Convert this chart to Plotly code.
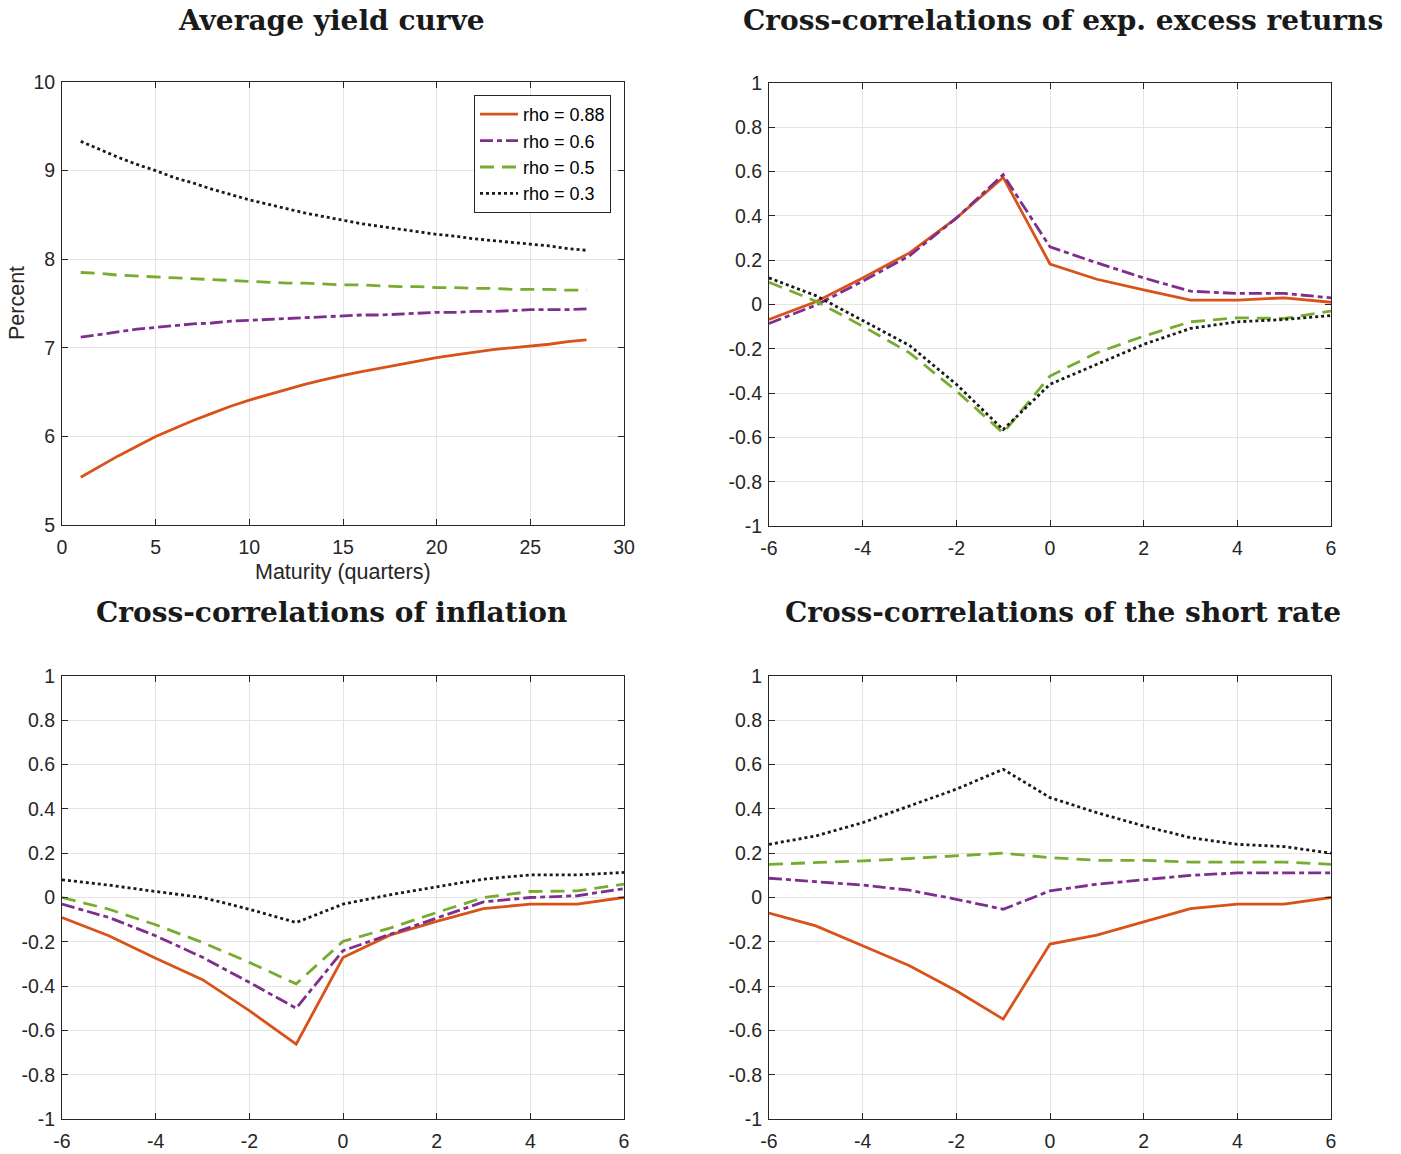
import plotly.graph_objects as go

# ---------------- data ----------------
maturity = list(range(1, 29))
yc_088 = [5.54, 5.66, 5.78, 5.89, 6.00, 6.09, 6.18, 6.26, 6.34, 6.41, 6.47, 6.53, 6.59, 6.64,
          6.69, 6.73, 6.77, 6.81, 6.85, 6.89, 6.92, 6.95, 6.98, 7.00, 7.02, 7.04, 7.07, 7.09]
yc_06 = [7.12, 7.15, 7.18, 7.21, 7.23, 7.25, 7.27, 7.28, 7.30, 7.31, 7.32, 7.33, 7.34, 7.35,
         7.36, 7.37, 7.37, 7.38, 7.39, 7.40, 7.40, 7.41, 7.41, 7.42, 7.43, 7.43, 7.43, 7.44]
yc_05 = [7.85, 7.84, 7.82, 7.81, 7.80, 7.79, 7.78, 7.77, 7.76, 7.75, 7.74, 7.73, 7.73, 7.72,
         7.71, 7.71, 7.70, 7.69, 7.69, 7.68, 7.68, 7.67, 7.67, 7.66, 7.66, 7.66, 7.65, 7.65]
yc_03 = [9.33, 9.24, 9.15, 9.07, 9.00, 8.92, 8.86, 8.79, 8.73, 8.67, 8.62, 8.57, 8.52, 8.48,
         8.44, 8.40, 8.37, 8.34, 8.31, 8.28, 8.26, 8.23, 8.21, 8.19, 8.17, 8.15, 8.12, 8.10]

lags = [-6, -5, -4, -3, -2, -1, 0, 1, 2, 3, 4, 5, 6]

exr_088 = [-0.068, 0.012, 0.12, 0.233, 0.39, 0.574, 0.183, 0.114, 0.066, 0.02, 0.02, 0.03, 0.01]
exr_06 = [-0.086, -0.003, 0.105, 0.22, 0.39, 0.586, 0.26, 0.188, 0.12, 0.06, 0.05, 0.05, 0.03]
exr_05 = [0.10, 0.015, -0.098, -0.218, -0.39, -0.58, -0.323, -0.218, -0.143, -0.078, -0.06, -0.063, -0.03]
exr_03 = [0.12, 0.04, -0.072, -0.185, -0.36, -0.565, -0.36, -0.27, -0.18, -0.108, -0.078, -0.068, -0.05]

inf_088 = [-0.09, -0.173, -0.274, -0.371, -0.511, -0.662, -0.271, -0.17, -0.108, -0.05, -0.03, -0.03, 0.0]
inf_06 = [-0.03, -0.09, -0.173, -0.27, -0.383, -0.50, -0.24, -0.165, -0.093, -0.02, 0.0, 0.008, 0.04]
inf_05 = [0.0, -0.053, -0.123, -0.203, -0.293, -0.39, -0.198, -0.138, -0.068, 0.0, 0.027, 0.03, 0.06]
inf_03 = [0.08, 0.056, 0.027, 0.0, -0.053, -0.113, -0.03, 0.012, 0.048, 0.083, 0.102, 0.102, 0.113]

sr_088 = [-0.07, -0.128, -0.218, -0.308, -0.421, -0.549, -0.21, -0.17, -0.11, -0.05, -0.03, -0.03, 0.0]
sr_06 = [0.087, 0.072, 0.056, 0.033, -0.008, -0.053, 0.03, 0.06, 0.08, 0.10, 0.111, 0.111, 0.111]
sr_05 = [0.15, 0.157, 0.165, 0.176, 0.188, 0.2, 0.18, 0.168, 0.168, 0.16, 0.16, 0.16, 0.15]
sr_03 = [0.24, 0.278, 0.338, 0.414, 0.489, 0.579, 0.451, 0.383, 0.323, 0.27, 0.24, 0.23, 0.2]

series_names = ["rho = 0.88", "rho = 0.6", "rho = 0.5", "rho = 0.3"]
titles = ["Average yield curve", "Cross-correlations of exp. excess returns",
          "Cross-correlations of inflation", "Cross-correlations of the short rate"]
xlabel_1 = "Maturity (quarters)"
ylabel_1 = "Percent"

yc_xticks = [0, 5, 10, 15, 20, 25, 30]
yc_yticks = [5, 6, 7, 8, 9, 10]
cc_xticks = [-6, -4, -2, 0, 2, 4, 6]
cc_yticks = [-1, -0.8, -0.6, -0.4, -0.2, 0, 0.2, 0.4, 0.6, 0.8, 1]
cc_yticktext = ["-1", "-0.8", "-0.6", "-0.4", "-0.2", "0", "0.2", "0.4", "0.6", "0.8", "1"]
cc_xticktext = ["-6", "-4", "-2", "0", "2", "4", "6"]

# ---------------- styles ----------------
colors = ["#D95319", "#7E2F8E", "#77AC30", "#1A1A1A"]
dashes = ["solid", "13px,4px,5px,4px", "14px,8px", "3px,3px"]
lw = 2.8
sans = "Liberation Sans, Arial, Helvetica, sans-serif"
serif = "DejaVu Serif, serif"

W, H = 1401, 1154
def px(x):
    return x / W
def py(y):
    return 1 - y / H
def xd(a, b):
    return [px(a), px(b)]
def yd(top, bot):
    return [py(bot), py(top)]

fig = go.Figure()

panels = [
    (maturity, [yc_088, yc_06, yc_05, yc_03], "x", "y"),
    (lags, [exr_088, exr_06, exr_05, exr_03], "x2", "y2"),
    (lags, [inf_088, inf_06, inf_05, inf_03], "x3", "y3"),
    (lags, [sr_088, sr_06, sr_05, sr_03], "x4", "y4"),
]
for pi, (xs, ys_list, xa, ya) in enumerate(panels):
    for si, ys in enumerate(ys_list):
        fig.add_trace(go.Scatter(
            x=xs, y=ys, mode="lines", name=series_names[si],
            line=dict(color=colors[si], width=lw, dash=dashes[si]),
            xaxis=xa, yaxis=ya, showlegend=(pi == 0)))

tickfont = dict(family=sans, size=19.5, color="#262626")
common = dict(showline=True, linecolor="#262626", linewidth=1, mirror="ticks",
              ticks="inside", ticklen=6, tickcolor="#262626", showgrid=True,
              gridcolor="#E4E4E4", gridwidth=1, zeroline=False, tickfont=tickfont,
              automargin=False)

dom = {
    1: (xd(62, 624), yd(82, 525)),
    2: (xd(769, 1331), yd(83, 526)),
    3: (xd(62, 624), yd(676, 1119)),
    4: (xd(769, 1331), yd(676, 1119)),
}

layout = dict(
    template="none",
    width=W, height=H, paper_bgcolor="white", plot_bgcolor="white",
    margin=dict(l=0, r=0, t=0, b=0, autoexpand=False),
    legend=dict(x=px(611), y=py(95), xanchor="right", yanchor="top",
                bgcolor="white", bordercolor="#262626", borderwidth=1,
                font=dict(family=sans, size=18, color="#000000"),
                tracegroupgap=0, itemwidth=38),
)

for i in range(1, 5):
    xs = "" if i == 1 else str(i)
    dx, dy = dom[i]
    if i == 1:
        xax = dict(common, domain=dx, range=[0, 30], tickvals=yc_xticks, anchor="y",
                   ticklabelstandoff=5)
        yax = dict(common, domain=dy, range=[5, 10], tickvals=yc_yticks, anchor="x",
                   ticklabelstandoff=2)
    else:
        xax = dict(common, domain=dx, range=[-6, 6], tickvals=cc_xticks, ticktext=cc_xticktext,
                   anchor="y" + xs, ticklabelstandoff=5)
        yax = dict(common, domain=dy, range=[-1, 1], tickvals=cc_yticks, ticktext=cc_yticktext,
                   anchor="x" + xs, ticklabelstandoff=2)
    layout["xaxis" + xs] = xax
    layout["yaxis" + xs] = yax

fig.update_layout(**layout)

title_pos = [(331, 21), (1063, 21), (331, 612), (1063, 612)]
for t, (cx, cy) in zip(titles, title_pos):
    fig.add_annotation(text="<b>" + t + "</b>", x=px(cx), y=py(cy), xref="paper", yref="paper",
                       xanchor="center", yanchor="middle", showarrow=False,
                       font=dict(family=serif, size=28, color="#1A1A1A"))

fig.add_annotation(text=xlabel_1, x=px(343), y=py(572), xref="paper", yref="paper",
                   xanchor="center", yanchor="middle", showarrow=False,
                   font=dict(family=sans, size=21.5, color="#262626"))
fig.add_annotation(text=ylabel_1, x=px(17), y=py(303), xref="paper", yref="paper",
                   xanchor="center", yanchor="middle", showarrow=False, textangle=-90,
                   font=dict(family=sans, size=21.5, color="#262626"))

fig.write_html("out.html", config={"displayModeBar": False},
               post_script="document.body.style.margin='0';document.body.style.overflow='hidden';")
